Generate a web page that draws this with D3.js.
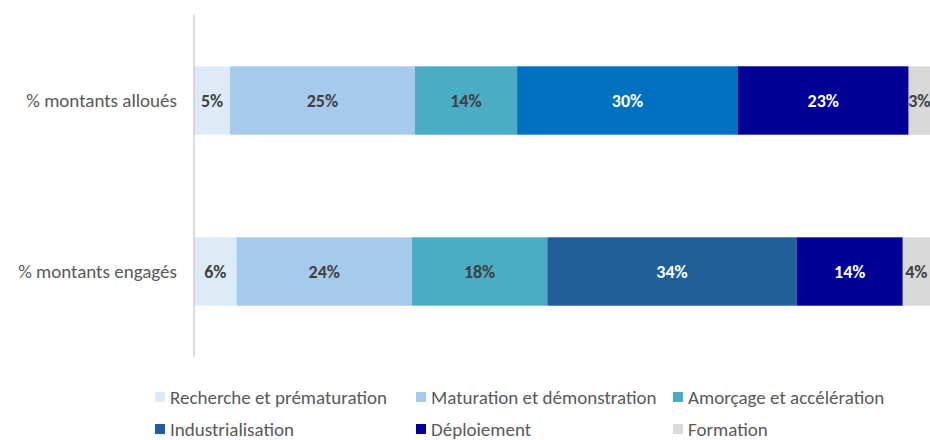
<!DOCTYPE html>
<html><head><meta charset="utf-8">
<script src="https://cdn.jsdelivr.net/npm/d3@7"></script>
<style>
body{margin:0;background:#fff;}
svg{display:block;font-family:Carlito,Calibri,Lato,sans-serif;}
</style></head><body>
<svg id="c" width="930" height="440"></svg>
<script>
const categories = ["% montants alloués", "% montants engagés"];
const seriesNames = ["Recherche et prématuration", "Maturation et démonstration", "Amorçage et accélération", "Industrialisation", "Déploiement", "Formation"];
const alloues = [4.9, 25.1, 13.9, 30.0, 23.2, 2.9];
const engages = [5.8, 23.8, 18.4, 33.9, 14.4, 3.7];
const labelsAlloues = ["5%", "25%", "14%", "30%", "23%", "3%"];
const labelsEngages = ["6%", "24%", "18%", "34%", "14%", "4%"];

const colors = ["#DDEBF7", "#A7C9EB", "#4BACC6", "#215F9A", "#000096", "#D9D9D9"];
const overrideColors = { "0-3": "#0070C0" };
const labelColors = ["#404040", "#404040", "#404040", "#ffffff", "#ffffff", "#404040"];

const values = [alloues, engages];
const labels = [labelsAlloues, labelsEngages];

const svg = d3.select("#c");
const x = d3.scaleLinear().domain([0, 100]).range([194, 930]);
const y = d3.scaleBand().domain(categories).range([15, 357]).paddingInner(0.6).paddingOuter(0.3);

categories.forEach((cat, ci) => {
  let acc = 0;
  const g = svg.append("g");
  values[ci].forEach((v, si) => {
    const x0 = x(acc), x1 = x(acc + v);
    acc += v;
    g.append("rect")
      .attr("x", x0).attr("y", y(cat))
      .attr("width", x1 - x0).attr("height", y.bandwidth())
      .attr("fill", overrideColors[ci + "-" + si] || colors[si]);
    g.append("text")
      .attr("x", (x0 + x1) / 2).attr("y", y(cat) + y.bandwidth() / 2)
      .attr("text-anchor", "middle").attr("dominant-baseline", "central")
      .attr("font-size", 18).attr("font-weight", "bold")
      .attr("fill", labelColors[si])
      .text(labels[ci][si]);
  });
  svg.append("text")
    .attr("x", 177).attr("y", y(cat) + y.bandwidth() / 2)
    .attr("text-anchor", "end").attr("dominant-baseline", "central")
    .attr("font-size", 19).attr("fill", "#595959")
    .text(cat);
});

// axis line
svg.append("line").attr("x1", 194).attr("x2", 194).attr("y1", 15).attr("y2", 357)
  .attr("stroke", "#D0CECE").attr("stroke-width", 1.5);

// legend
const legX = [155, 416, 673];
const legY = [397, 429];
seriesNames.forEach((n, i) => {
  const lx = legX[i % 3], ly = legY[Math.floor(i / 3)];
  svg.append("rect").attr("x", lx).attr("y", ly - 5).attr("width", 10).attr("height", 10).attr("fill", colors[i]);
  svg.append("text").attr("x", lx + 15).attr("y", ly).attr("dominant-baseline", "central")
    .attr("font-size", 19).attr("fill", "#595959").text(n);
});
</script>
</body></html>
